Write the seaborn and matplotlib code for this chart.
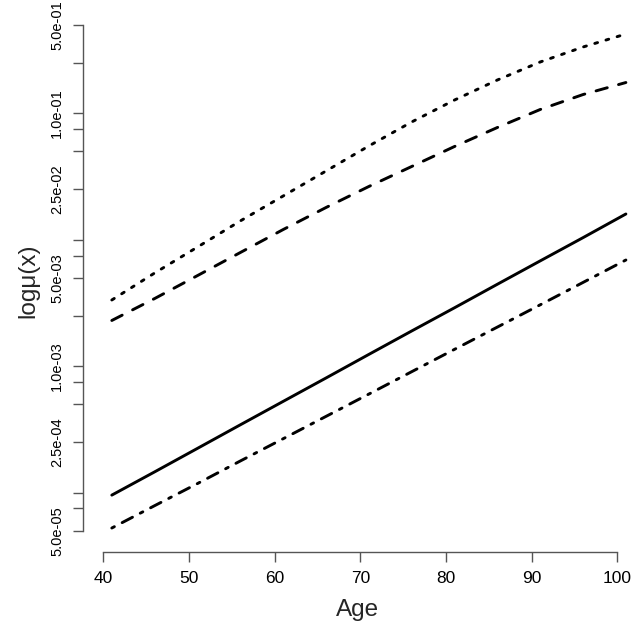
import numpy as np
import pandas as pd
import matplotlib
matplotlib.use("Agg")
import matplotlib.pyplot as plt
import seaborn as sns

# ages (x) shared by all four curves
ages = [41, 46, 51, 56, 61, 66, 71, 76, 81, 86, 91, 96, 101]

# values
solid = [9.56e-05, 1.46e-04, 2.24e-04, 3.44e-04, 5.27e-04, 8.07e-04, 1.24e-03,
         1.90e-03, 2.90e-03, 4.45e-03, 6.81e-03, 1.04e-02, 1.60e-02]
dotdash = [5.25e-05, 7.89e-05, 1.18e-04, 1.78e-04, 2.67e-04, 4.01e-04, 6.02e-04,
           9.05e-04, 1.36e-03, 2.04e-03, 3.06e-03, 4.60e-03, 6.92e-03]
dashed = [2.30e-03, 3.43e-03, 5.21e-03, 7.93e-03, 1.205e-02, 1.80e-02, 2.64e-02,
          3.80e-02, 5.47e-02, 7.73e-02, 0.1073, 0.1409, 0.1754]
dotted = [3.34e-03, 5.46e-03, 8.76e-03, 1.41e-02, 2.22e-02, 3.50e-02, 5.52e-02,
          8.55e-02, 0.1275, 0.1836, 0.2549, 0.3349, 0.4244]

# axis ticks
x_ticks = [40, 50, 60, 70, 80, 90, 100]
y_ticks = [5e-05, 7.5e-05, 1e-04, 2.5e-04, 5e-04, 7.5e-04, 1e-03, 2.5e-03, 5e-03,
           7.5e-03, 1e-02, 2.5e-02, 5e-02, 7.5e-02, 1e-01, 2.5e-01, 5e-01]
y_labels = ["5.0e-05", "", "", "2.5e-04", "", "", "1.0e-03", "", "5.0e-03",
            "", "", "2.5e-02", "", "", "1.0e-01", "", "5.0e-01"]

sns.set_style("ticks")
plt.rcParams['font.family'] = ['Liberation Sans', 'DejaVu Sans']

fig = plt.figure(figsize=(6.33, 6.33), dpi=100)
ax = fig.add_axes([0.1306, 0.1284, 0.8694, 0.8558])

lw = 2.1
styles = [
    (solid, "-"),
    (dotdash, (0, (1, 3, 4, 3))),
    (dashed, (0, (4, 4))),
    (dotted, (0, (1, 3))),
]
for vals, ls in styles:
    sns.lineplot(x=ages, y=vals, ax=ax, color="black", lw=lw, linestyle=ls,
                 dash_capstyle="round", solid_capstyle="round")

ax.set_yscale("log")
ax.set_xlim(37.6, 101.83)
ax.set_ylim(3.41e-05, 0.657)

ax.set_xticks(x_ticks)
ax.set_xticklabels([str(t) for t in x_ticks], fontsize=12.5)
ax.yaxis.set_major_locator(matplotlib.ticker.FixedLocator(y_ticks))
ax.yaxis.set_minor_locator(matplotlib.ticker.NullLocator())
ax.set_yticklabels(y_labels, fontsize=10.5, rotation=90, va="center")

for s in ["top", "right"]:
    ax.spines[s].set_visible(False)
ax.spines["left"].set_bounds(5e-05, 5e-01)
ax.spines["bottom"].set_bounds(40, 100)
for s in ["left", "bottom"]:
    ax.spines[s].set_color("#555555")
    ax.spines[s].set_linewidth(1.0)
ax.tick_params(axis="both", direction="out", length=7.2, width=1.0,
               color="#555555", labelcolor="black")
ax.tick_params(axis="x", pad=7)
ax.tick_params(axis="y", pad=6)

ax.set_xlabel("Age", fontsize=17.5, labelpad=9)
ax.set_ylabel("logμ(x)", fontsize=17.5, labelpad=8)

fig.savefig("out.png", dpi=100)
